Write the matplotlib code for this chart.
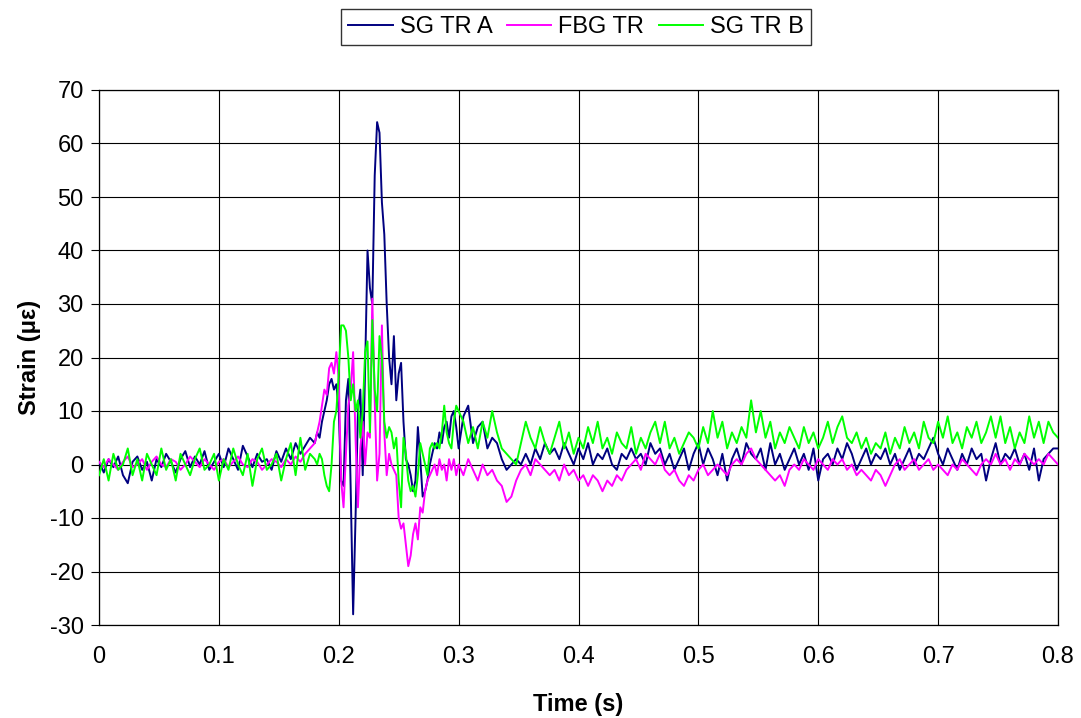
import numpy as np
import matplotlib
matplotlib.use("Agg")
import matplotlib.pyplot as plt

plt.rcParams['font.family'] = ['Liberation Sans', 'DejaVu Sans']
plt.rcParams['axes.unicode_minus'] = False

# ---------------- data ----------------
# three time segments: pre-event (dt 0.004), event (dt 0.002), post-event (dt 0.004)
t_pre_start, t_pre_step = 0.0, 0.004
t_burst_start, t_burst_step = 0.180, 0.002
t_post_start, t_post_step = 0.300, 0.004

sg_a_pre = [0.5, -1.5, 1.0, -0.5, 1.5, -2.0, -3.5, 0.5, 1.5, -1.0,
            0.5, -3.0, 1.0, -0.5, 2.0, 0.5, -1.5, 1.0, 2.5, -0.5,
            1.5, 0.0, 2.5, -1.0, 0.5, 2.0, -0.5, 3.0, 1.0, -1.0,
            3.5, 1.5, -0.5, 2.0, 0.5, 1.0, -1.0, 2.5, 0.5, 3.0,
            1.0, 4.0, 2.0, 3.5, 5.0]
sg_a_burst = [4, 6, 5, 8, 10, 12, 15, 16, 14, 15,
              10, -3, -4, 12, 16, -5, -28, -10, 10, 14,
              -2, 18, 40, 33, 30, 54, 64, 62, 49, 43,
              30, 20, 15, 24, 12, 17, 19, 8, 1, 0,
              -2, -5, -3, 7, 1, -6, -5, -3, 0, 2,
              4, 3, 6, 4, 7, 8, 5, 9, 10, 7]
sg_a_post = [3, 9, 11, 4, 7, 8, 3, 5, 4, 1,
             -1, 0, 1, 0, 2, 0, 3, 1, 4, 2,
             3, 1, 4, 2, 0, 3, 1, 4, 0, 2,
             1, 3, 0, -1, 2, 1, 3, 1, 2, 0,
             4, 2, 3, 0, 2, -1, 1, 3, -1, 2,
             4, 0, 3, 1, -2, 2, -3, 1, 3, 0,
             4, 2, 1, 3, -1, 4, 0, 2, -1, 1,
             3, 0, 2, -1, 3, -3, 1, 2, 0, 3,
             1, 4, 2, -1, 1, 3, 0, 2, 1, 3,
             0, 2, -1, 1, 3, 0, 2, 1, 3, 5,
             2, 0, 3, 1, -1, 2, 0, 3, 1, 2,
             -3, 1, 4, 0, 2, 1, 3, 0, 2, -1,
             3, -3, 1, 2, 3, 3]

fbg_pre = [0.5, -0.5, 1.0, 0.0, -1.0, 0.5, 1.5, -0.5, 0.0, 1.0,
           -1.0, 0.5, 1.5, 0.0, -0.5, 1.0, 0.5, -1.0, 0.0, 1.5,
           0.5, -0.5, 1.0, 0.0, -1.0, 0.5, 1.0, -0.5, 0.5, 1.5,
           0.0, -0.5, 1.0, 0.5, -1.0, 0.0, 1.0, 0.5, -0.5, 1.0,
           0.0, 1.5, 0.5, 2.0, 3.0]
fbg_burst = [4, 6, 8, 11, 14, 13, 18, 19, 17, 21,
             16, -3, -8, 2, 11, 14, 21, 5, -8, 3,
             8, 0, 6, 5, 31, 12, -3, 2, 26, 6,
             -2, 2, 0, -1, -2, -10, -12, -11, -15, -19,
             -17, -13, -11, -14, -8, -9, -5, -3, -2, -1,
             0, -2, 1, -1, 0, -3, 1, -1, 1, -2]
fbg_post = [0, -2, 1, -1, -3, 0, -2, -1, -3, -4,
            -7, -6, -3, -1, 0, -2, 1, 0, -1, -2,
            -1, -3, 0, -2, -1, -3, -2, -4, -2, -3,
            -5, -3, -4, -2, -3, -1, 0, 1, -1, 2,
            1, 0, 2, -1, -2, -1, -3, -4, -2, -3,
            -1, 0, -2, -1, 0, -1, -2, 0, 1, 0,
            2, 3, 1, 0, -1, -2, -3, -2, -4, -1,
            0, -1, 1, 0, -1, 1, 0, -1, 1, 0,
            1, -1, 0, -2, -1, -2, -3, -1, -2, -4,
            -2, 0, 1, -1, 0, 1, -1, 0, 1, -1,
            0, -1, -2, 0, -1, 1, 0, -1, -2, 0,
            1, 0, 2, 0, 1, -1, 1, 0, 2, 1,
            0, 1, 0, 2, 1, 0]

sg_b_pre = [-2, 1, -3, 2, -1, 0, 3, -2, 1, -3,
            2, 0, -2, 3, -1, 1, -3, 2, 0, -2,
            1, 3, -1, 0, 2, -3, 1, -1, 3, 0,
            -2, 2, -4, 1, 3, -1, 0, 2, -3, 1,
            4, -2, 5, -1, 2]
sg_b_burst = [1, 0, 2, 1, -2, -4, -5, 0, 8, 10,
              17, 26, 26, 25, 20, 12, 15, 10, 12, 5,
              10, 21, 23, 6, 27, 14, 10, 24, 20, 8,
              5, 7, 6, 3, 5, -3, -8, 5, 2, -3,
              -5, -4, -6, -2, 4, 2, 0, -2, 3, 4,
              3, 4, 3, 6, 11, 6, 4, 3, 8, 11]
sg_b_post = [10, 8, 4, 7, 3, 8, 5, 10, 6, 3,
             2, 1, 0, 4, 8, 5, 3, 7, 4, 2,
             5, 8, 3, 6, 2, 5, 3, 7, 4, 8,
             3, 5, 2, 6, 4, 3, 7, 2, 5, 3,
             6, 8, 4, 8, 3, 5, 2, 4, 6, 5,
             3, 7, 4, 10, 5, 8, 3, 6, 4, 7,
             5, 12, 6, 10, 5, 8, 3, 6, 4, 7,
             5, 3, 7, 4, 6, 3, 5, 8, 4, 7,
             9, 5, 4, 6, 3, 5, 2, 4, 3, 6,
             2, 5, 3, 7, 4, 6, 3, 8, 5, 4,
             8, 5, 9, 4, 6, 3, 7, 5, 8, 4,
             6, 9, 5, 9, 4, 7, 3, 6, 4, 9,
             5, 8, 4, 8, 6, 5]

series_names = ["SG TR A", "FBG TR", "SG TR B"]
series_colors = ["#000080", "#FF00FF", "#00FF00"]

x_ticks = [0, 0.1, 0.2, 0.3, 0.4, 0.5, 0.6, 0.7, 0.8]
x_tick_labels = ["0", "0.1", "0.2", "0.3", "0.4", "0.5", "0.6", "0.7", "0.8"]
y_ticks = list(range(-30, 71, 10))


def build(pre, burst, post):
    t1 = t_pre_start + t_pre_step * np.arange(len(pre))
    t2 = t_burst_start + t_burst_step * np.arange(len(burst))
    t3 = t_post_start + t_post_step * np.arange(len(post))
    return np.concatenate([t1, t2, t3]), np.concatenate([pre, burst, post]).astype(float)


data = [build(sg_a_pre, sg_a_burst, sg_a_post),
        build(fbg_pre, fbg_burst, fbg_post),
        build(sg_b_pre, sg_b_burst, sg_b_post)]

# ---------------- figure ----------------
W, H = 1081, 718
FS = 17
fig = plt.figure(figsize=(W / 100, H / 100), dpi=100)
ax = fig.add_axes([99 / W, 1 - 625 / H, (1058 - 99) / W, (625 - 90) / H])

handles = []
for (t, v), name, col in zip(data, series_names, series_colors):
    h, = ax.plot(t, v, color=col, lw=1.4, label=name, zorder=3)
    handles.append(h)

ax.set_xlim(0, 0.8)
ax.set_ylim(-30, 70)
ax.set_xticks(x_ticks)
ax.set_xticklabels(x_tick_labels)
ax.set_yticks(y_ticks)
ax.grid(True, color="black", lw=0.8, zorder=1)
ax.set_axisbelow(True)
for s in ax.spines.values():
    s.set_color("black")
    s.set_linewidth(0.9)
ax.tick_params(axis="x", length=0, pad=15, labelsize=FS)
ax.tick_params(axis="y", length=6, width=0.8, direction="out", pad=5, labelsize=FS)

ax.set_xlabel("Time (s)", fontsize=FS, fontweight="bold", labelpad=18)
ax.set_ylabel("Strain (\u03bc\u03b5)", fontsize=FS, fontweight="bold", labelpad=6)

leg = fig.legend(handles=handles, loc="center", bbox_to_anchor=(576 / W, 1 - 27 / H),
                 ncol=3, fontsize=FS, frameon=True, fancybox=False, shadow=False,
                 handlelength=1.9, handletextpad=0.3, columnspacing=0.6,
                 borderpad=0.3, borderaxespad=0)
leg.get_frame().set_edgecolor("black")
leg.get_frame().set_linewidth(1.0)

fig.savefig("out.png", dpi=100)
